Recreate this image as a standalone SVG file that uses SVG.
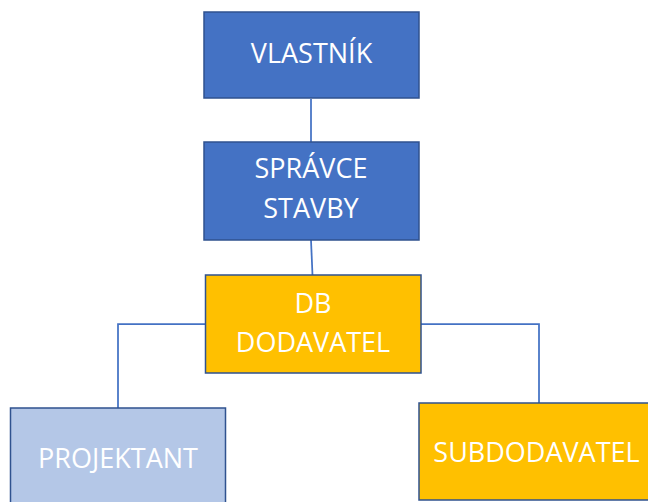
<svg xmlns="http://www.w3.org/2000/svg" width="648" height="502" viewBox="0 0 648 502">
<style>
.box{stroke:#2F528F;stroke-width:1.5}
.blue{fill:#4472C4}
.orange{fill:#FFC000}
.light{fill:#B4C7E7}
.lbl{font-family:"Open Sans","Liberation Sans",sans-serif;font-size:27px;fill:#FFFFFF;text-anchor:middle}
.conn{fill:none;stroke:#4472C4;stroke-width:1.75}
</style>
<rect width="648" height="502" fill="#FFFFFF"/>
<g id="connectors">
<line class="conn" x1="311" y1="99" x2="311" y2="142"/>
<line class="conn" x1="311" y1="240" x2="312.5" y2="275"/>
<polyline class="conn" points="205,324 118,324 118,408"/>
<polyline class="conn" points="421,324 539,324 539,403"/>
</g>
<g id="vlastnik">
<rect class="box blue" x="204" y="12" width="215" height="86"/>
<text class="lbl" x="311.5" y="63">VLASTNÍK</text>
</g>
<g id="spravce">
<rect class="box blue" x="204" y="142" width="215" height="98"/>
<text class="lbl" x="311" y="178">SPRÁVCE</text>
<text class="lbl" x="311" y="218">STAVBY</text>
</g>
<g id="db">
<rect class="box orange" x="205.5" y="275" width="215.5" height="98"/>
<text class="lbl" x="313" y="313">DB</text>
<text class="lbl" x="313" y="352">DODAVATEL</text>
</g>
<g id="projektant">
<rect class="box light" x="10.5" y="408" width="215" height="110"/>
<text class="lbl" x="118" y="468">PROJEKTANT</text>
</g>
<g id="subdodavatel">
<rect class="box orange" x="419" y="403" width="236" height="97"/>
<text class="lbl" x="536.5" y="462">SUBDODAVATEL</text>
</g>
</svg>
